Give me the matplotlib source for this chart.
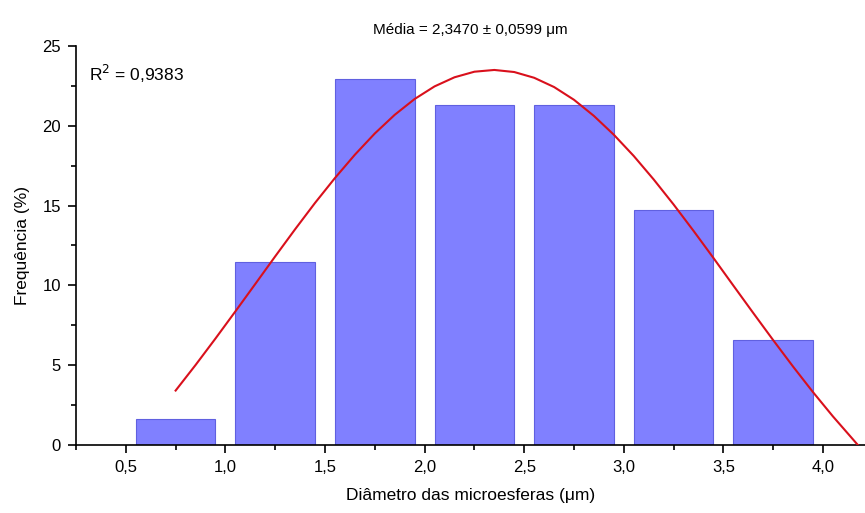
import matplotlib
matplotlib.use("Agg")
import matplotlib.pyplot as plt
from matplotlib.ticker import MultipleLocator

plt.rcParams['font.family'] = ['Liberation Sans', 'DejaVu Sans']

# histogram of diameters (bin centres, frequency %)
centers = [0.75, 1.25, 1.75, 2.25, 2.75, 3.25, 3.75]
freq = [1.64, 11.48, 22.95, 21.31, 21.31, 14.75, 6.56]

# fitted curve
fit_x = [0.75, 0.85, 0.95, 1.05, 1.15, 1.25, 1.35, 1.45, 1.55, 1.65, 1.75, 1.85,
         1.95, 2.05, 2.15, 2.25, 2.35, 2.45, 2.55, 2.65, 2.75, 2.85, 2.95, 3.05,
         3.15, 3.25, 3.35, 3.45, 3.55, 3.65, 3.75, 3.85, 3.95, 4.05, 4.15, 4.175]
fit_y = [3.41, 5.01, 6.67, 8.37, 10.09, 11.82, 13.52, 15.17, 16.73, 18.19, 19.52, 20.69,
         21.68, 22.47, 23.04, 23.39, 23.50, 23.37, 23.01, 22.43, 21.63, 20.62, 19.44, 18.11,
         16.64, 15.07, 13.42, 11.72, 9.99, 8.27, 6.57, 4.91, 3.31, 1.79, 0.36, 0.0]

xticks = [0.5, 1.0, 1.5, 2.0, 2.5, 3.0, 3.5, 4.0]
xticklabels = ["0,5", "1,0", "1,5", "2,0", "2,5", "3,0", "3,5", "4,0"]
yticks = [0, 5, 10, 15, 20, 25]

fig = plt.figure(figsize=(8.65, 5.13), dpi=100)
ax = fig.add_axes([0.0879, 0.1326, 0.9121, 0.7777])

ax.bar(centers, freq, width=0.4, color="#8080ff", edgecolor="#6060e0", linewidth=0.8, zorder=2)
ax.plot(fit_x, fit_y, color="#d9101c", linewidth=1.5, zorder=3)

ax.set_xlim(0.25, 4.211)
ax.set_ylim(0, 25)
ax.set_xticks(xticks)
ax.set_xticklabels(xticklabels)
ax.set_yticks(yticks)
ax.xaxis.set_minor_locator(MultipleLocator(0.25))
ax.yaxis.set_minor_locator(MultipleLocator(2.5))

for s in ["top", "right"]:
    ax.spines[s].set_visible(False)
for s in ["left", "bottom"]:
    ax.spines[s].set_linewidth(1.2)

ax.tick_params(which="major", direction="out", length=6, width=1.2, labelsize=12, pad=5)
ax.tick_params(which="minor", direction="out", length=3.5, width=1.2)
ax.tick_params(axis="x", which="major", pad=5)

ax.set_xlabel("Diâmetro das microesferas (μm)", fontsize=12.5, labelpad=9)
ax.set_ylabel("Frequência (%)", fontsize=12.5, labelpad=9)
ax.set_title("Média = 2,3470 ± 0,0599 μm", fontsize=11, pad=9)

ax.text(0.016, 0.93, "R$^2$ = 0,9383", transform=ax.transAxes, fontsize=12.5, va="center", ha="left")

fig.savefig("out.png", dpi=100)
